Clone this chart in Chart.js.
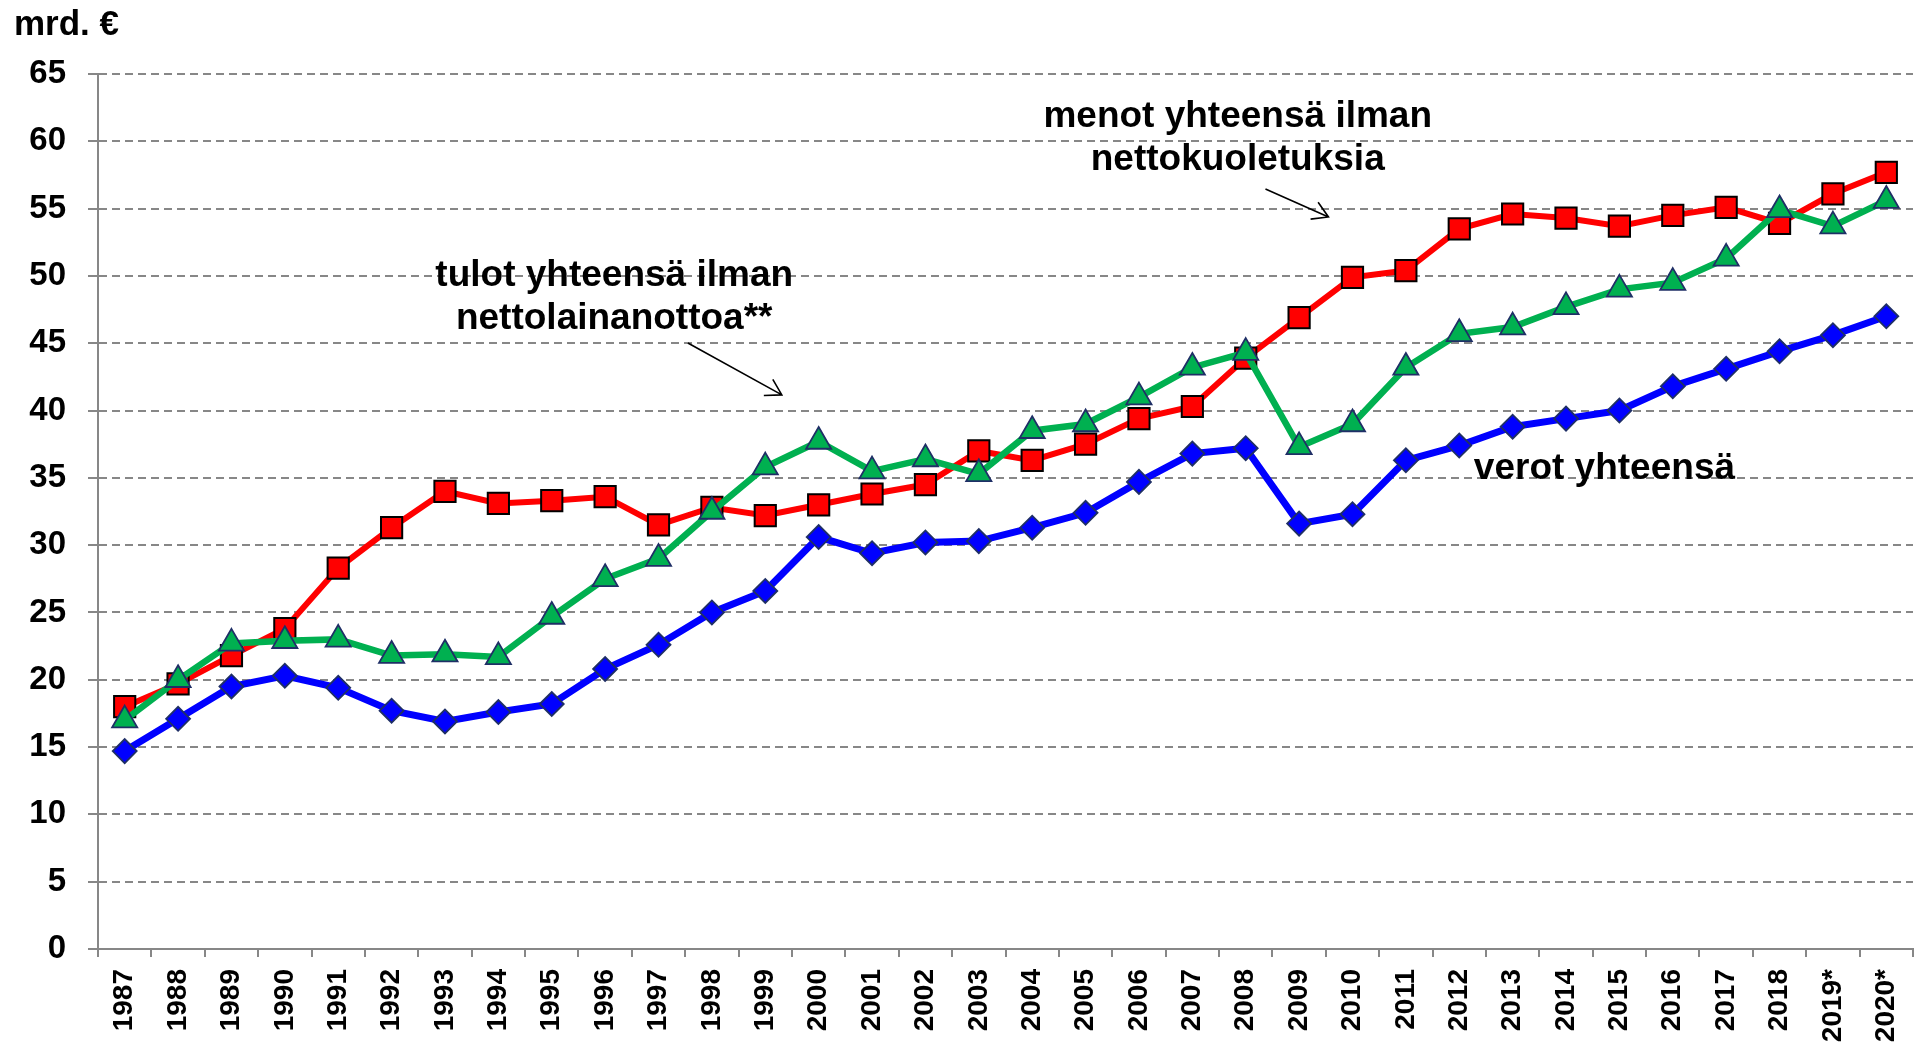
<!DOCTYPE html>
<html>
<head>
<meta charset="utf-8">
<script src="https://cdn.jsdelivr.net/npm/chart.js@4.4.1/dist/chart.umd.min.js"></script>
<style>
  html, body { margin: 0; padding: 0; background: #fff; }
  canvas { display: block; }
</style>
</head>
<body>
<canvas id="budgetChart" width="1930" height="1046"></canvas>
<script>
const years = ['1987', '1988', '1989', '1990', '1991', '1992', '1993', '1994', '1995', '1996',
    '1997', '1998', '1999', '2000', '2001', '2002', '2003', '2004', '2005', '2006',
    '2007', '2008', '2009', '2010', '2011', '2012', '2013', '2014', '2015', '2016',
    '2017', '2018', '2019*', '2020*'];

// menot yhteensä ilman nettokuoletuksia
const menot = [18.0, 19.7, 21.8, 23.8, 28.3, 31.3, 34.0, 33.1, 33.3, 33.6,
    31.5, 32.8, 32.2, 33.0, 33.8, 34.5, 37.0, 36.3, 37.5, 39.4,
    40.3, 43.9, 46.9, 49.9, 50.4, 53.5, 54.6, 54.3, 53.7, 54.5,
    55.1, 53.9, 56.1, 57.7];

// tulot yhteensä ilman nettolainanottoa
const tulot = [17.0, 20.0, 22.7, 22.9, 23.0, 21.8, 21.9, 21.7, 24.7, 27.5,
    29.0, 32.5, 35.8, 37.7, 35.5, 36.4, 35.3, 38.5, 39.0, 41.0,
    43.2, 44.3, 37.3, 39.0, 43.2, 45.7, 46.2, 47.7, 49.0, 49.5,
    51.3, 54.9, 53.7, 55.6];

// verot yhteensä
const verot = [14.7, 17.1, 19.5, 20.3, 19.4, 17.7, 16.9, 17.6, 18.2, 20.8,
    22.6, 25.0, 26.6, 30.6, 29.4, 30.2, 30.3, 31.3, 32.4, 34.7,
    36.8, 37.2, 31.6, 32.3, 36.3, 37.4, 38.8, 39.4, 40.0, 41.8,
    43.1, 44.4, 45.6, 47.0];

const FONT = '"Liberation Sans", Arial, sans-serif';
const GRID = '#878787';

// text notes, anchored in data units (category index, value)
const notes = [
    { lines: ['menot yhteensä ilman', 'nettokuoletuksia'], x: 20.85, y: 61.8, arrow: [21.37, 56.46, 22.55, 54.38] },
    { lines: ['tulot yhteensä ilman', 'nettolainanottoa**'], x: 9.17, y: 50.0, arrow: [10.55, 45.02, 12.31, 41.16] },
    { lines: ['verot yhteensä'], x: 27.72, y: 35.66 }
];

const notesPlugin = {
    id: 'notes',
    afterDraw(chart) {
        const { ctx, chartArea } = chart;
        const xs = chart.scales.x, ys = chart.scales.y;
        ctx.save();
        ctx.fillStyle = '#000';
        ctx.textBaseline = 'middle';

        ctx.font = 'bold 35px ' + FONT;
        ctx.textAlign = 'left';
        ctx.fillText('mrd. €', 14, chartArea.top - 49);

        ctx.font = 'bold 37px ' + FONT;
        ctx.textAlign = 'center';
        notes.forEach(n => {
            const cx = xs.getPixelForValue(n.x);
            const cy = ys.getPixelForValue(n.y);
            n.lines.forEach((t, i) => ctx.fillText(t, cx, cy + i * 43));
            if (n.arrow) {
                const x1 = xs.getPixelForValue(n.arrow[0]), y1 = ys.getPixelForValue(n.arrow[1]);
                const x2 = xs.getPixelForValue(n.arrow[2]), y2 = ys.getPixelForValue(n.arrow[3]);
                const ang = Math.atan2(y2 - y1, x2 - x1);
                const head = 18, spread = 0.54;
                ctx.strokeStyle = '#000';
                ctx.lineWidth = 1.6;
                ctx.beginPath();
                ctx.moveTo(x1, y1);
                ctx.lineTo(x2, y2);
                ctx.moveTo(x2 - head * Math.cos(ang - spread), y2 - head * Math.sin(ang - spread));
                ctx.lineTo(x2, y2);
                ctx.lineTo(x2 - head * Math.cos(ang + spread), y2 - head * Math.sin(ang + spread));
                ctx.stroke();
            }
        });
        ctx.restore();
    }
};

const ctx = document.getElementById('budgetChart').getContext('2d');

new Chart(ctx, {
    type: 'line',
    data: {
        labels: years,
        datasets: [{
            label: 'menot yhteensä ilman nettokuoletuksia',
            data: menot,
            order: 2,
            borderColor: '#FF0000',
            borderWidth: 6,
            pointStyle: 'rect',
            pointRadius: 15,
            pointBackgroundColor: '#FF0000',
            pointBorderColor: '#000000',
            pointBorderWidth: 2
        }, {
            label: 'tulot yhteensä ilman nettolainanottoa**',
            data: tulot,
            order: 1,
            borderColor: '#00B050',
            borderWidth: 6.5,
            pointStyle: 'triangle',
            pointRadius: 14.5,
            pointBackgroundColor: '#00B050',
            pointBorderColor: '#1F2F66',
            pointBorderWidth: 1.8
        }, {
            label: 'verot yhteensä',
            data: verot,
            order: 3,
            borderColor: '#0000FF',
            borderWidth: 7,
            pointStyle: 'rectRot',
            pointRadius: 12,
            pointBackgroundColor: '#0000FF',
            pointBorderColor: '#1F2F66',
            pointBorderWidth: 1.8
        }]
    },
    options: {
        responsive: false,
        animation: false,
        devicePixelRatio: 1,
        layout: {
            padding: { top: 74, right: 8, bottom: 0, left: 0 }
        },
        elements: {
            line: { tension: 0 }
        },
        scales: {
            x: {
                afterFit: s => {
                    s.height = 97;
                    s.paddingLeft = 0;
                    s.paddingRight = 0;
                },
                offset: true,
                grid: {
                    offset: true,
                    drawOnChartArea: false,
                    drawTicks: true,
                    tickLength: 8,
                    color: GRID,
                    lineWidth: 2
                },
                border: { color: GRID, width: 2 },
                ticks: {
                    autoSkip: false,
                    maxRotation: 90,
                    minRotation: 90,
                    padding: 12,
                    color: '#000',
                    font: { family: FONT, size: 28, weight: 'bold' }
                }
            },
            y: {
                afterFit: s => { s.width = 98; },
                min: 0,
                max: 65,
                ticks: {
                    stepSize: 5,
                    padding: 22,
                    color: '#000',
                    font: { family: FONT, size: 33, weight: 'bold' }
                },
                grid: {
                    color: GRID,
                    lineWidth: 2,
                    tickLength: 10,
                    tickColor: GRID,
                    tickBorderDash: []
                },
                border: { color: GRID, width: 2, dash: [8, 5] }
            }
        },
        plugins: {
            legend: { display: false },
            tooltip: { enabled: false }
        }
    },
    plugins: [notesPlugin]
});
</script>
</body>
</html>
